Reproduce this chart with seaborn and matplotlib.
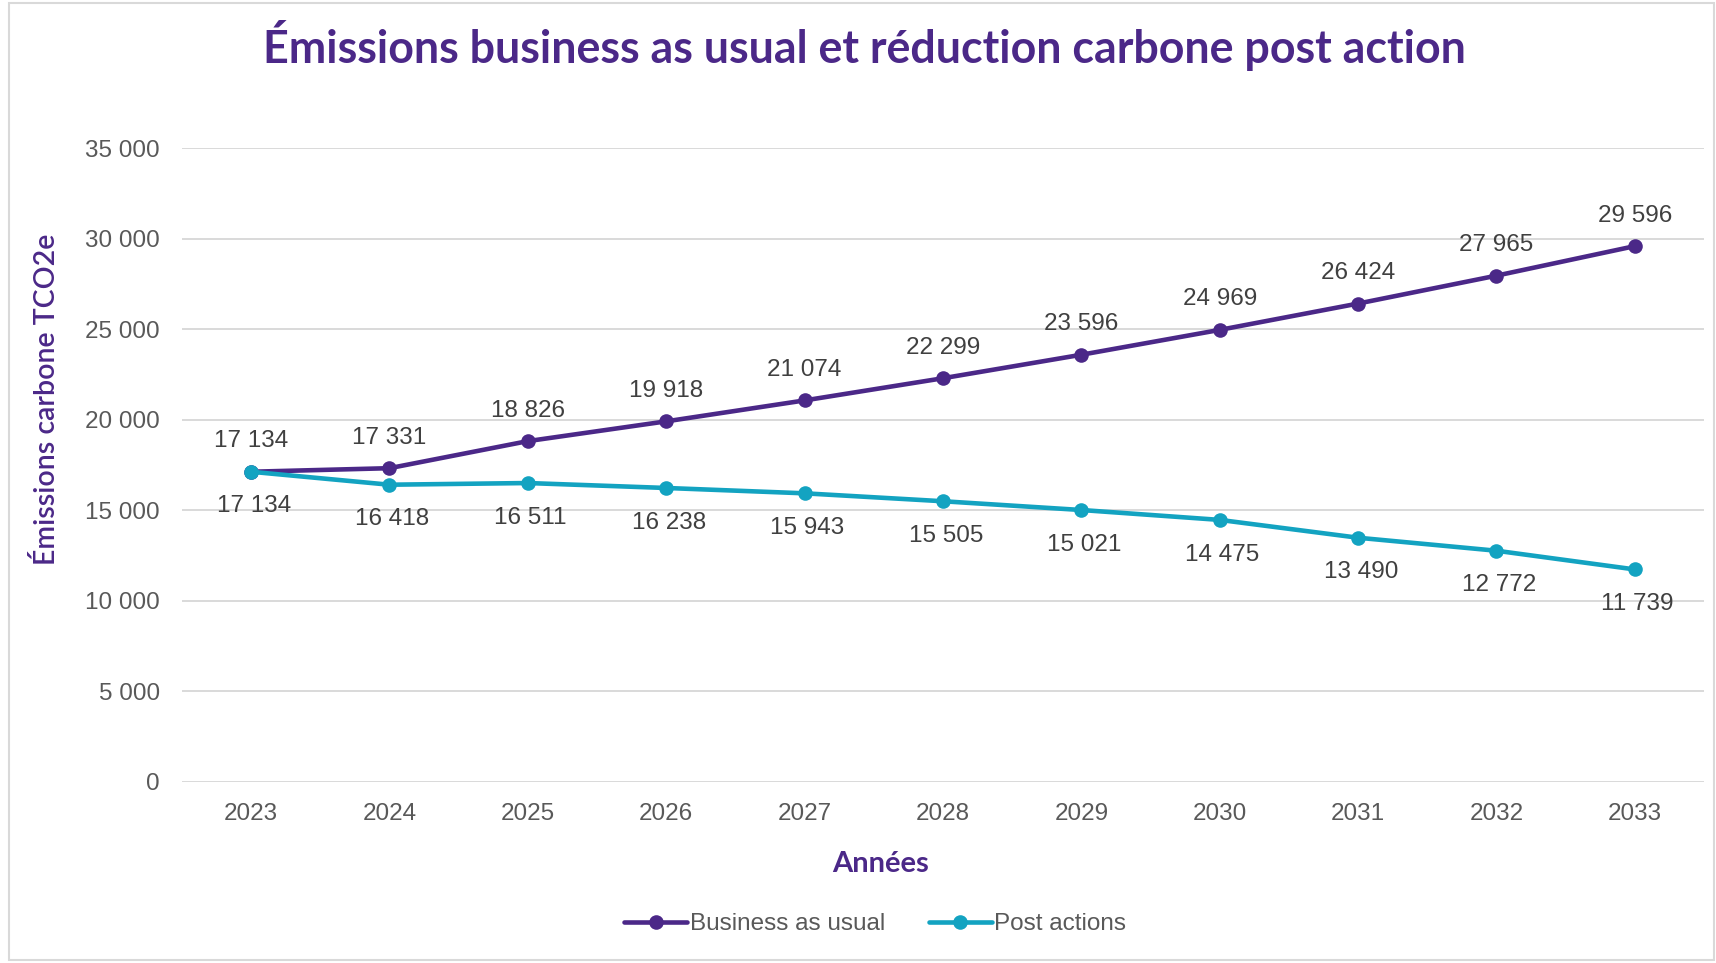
import pandas as pd
import seaborn as sns
import matplotlib.pyplot as plt
from matplotlib.patches import Rectangle
from matplotlib.ticker import FuncFormatter

# Chart values
years = ["2023", "2024", "2025", "2026", "2027", "2028", "2029", "2030", "2031", "2032", "2033"]
business_as_usual = [17134, 17331, 18826, 19918, 21074, 22299, 23596, 24969, 26424, 27965, 29596]
post_actions = [17134, 16418, 16511, 16238, 15943, 15505, 15021, 14475, 13490, 12772, 11739]
series_names = ["Business as usual", "Post actions"]

PURPLE = "#4B2888"
TEAL = "#13A3C1"
TEXT_GREY = "#595959"


def fmt_fr(v):
    """Format a number with a space as thousands separator"""
    return f"{int(v):,}".replace(",", " ")


# Long-form table for seaborn
df = pd.DataFrame({
    "idx": list(range(len(years))) * 2,
    "value": business_as_usual + post_actions,
    "series": [series_names[0]] * len(years) + [series_names[1]] * len(years),
})

sns.set_style("white")
plt.rcParams["font.family"] = ["Liberation Sans", "DejaVu Sans"]

fig = plt.figure(figsize=(17.16, 9.63), dpi=100)
ax = fig.add_axes([0.106, 0.188, 0.887, 0.658])

sns.lineplot(
    data=df, x="idx", y="value", hue="series",
    palette={series_names[0]: PURPLE, series_names[1]: TEAL},
    marker="o", markersize=10.5, markeredgewidth=0, linewidth=3.3,
    ax=ax, legend=True,
)

ax.set_xlim(-0.5, len(years) - 0.5)
ax.set_ylim(0, 35000)
ax.set_yticks(range(0, 35001, 5000))
ax.yaxis.set_major_formatter(FuncFormatter(lambda v, p: fmt_fr(v)))
ax.set_xticks(range(len(years)))
ax.set_xticklabels(years)
ax.tick_params(axis="both", labelsize=17.5, colors=TEXT_GREY, length=0)
ax.tick_params(axis="y", pad=16)
ax.tick_params(axis="x", pad=15)
ax.grid(axis="y", color="#D9D9D9", linewidth=1.4)
ax.set_axisbelow(True)
for s in ax.spines.values():
    s.set_visible(False)

# Data labels
for i, v in enumerate(business_as_usual):
    ax.annotate(fmt_fr(v), (i, v), xytext=(0, 22), textcoords="offset points",
                ha="center", va="center", fontsize=17.5, color="#404040")
for i, v in enumerate(post_actions):
    ax.annotate(fmt_fr(v), (i, v), xytext=(2, -25), textcoords="offset points",
                ha="center", va="center", fontsize=17.5, color="#404040")

ax.set_xlabel("")
ax.set_ylabel("")

fig.text(0.504, 0.953, "Émissions business as usual et réduction carbone post action",
         ha="center", va="center", fontsize=32.2, fontweight="bold", color=PURPLE,
         family=["Lato", "DejaVu Sans"])
fig.text(0.027, 0.585, "Émissions carbone TCO2e", rotation=90, ha="center", va="center",
         fontsize=20.5, color=PURPLE, family=["Lato", "DejaVu Sans"], fontweight="semibold")
fig.text(0.513, 0.103, "Années", ha="center", va="center", fontsize=21,
         fontweight="bold", color=PURPLE, family=["Lato", "DejaVu Sans"])

handles, labels = ax.get_legend_handles_labels()
ax.get_legend().remove()
fig.legend(handles, labels, loc="center", bbox_to_anchor=(0.51, 0.040), ncol=2,
           frameon=False, fontsize=17.5, handlelength=2.6, handletextpad=0.1,
           columnspacing=1.8, labelcolor=TEXT_GREY)

# light frame around the chart
fig.patches.append(Rectangle((0.005, 0.003), 0.994, 0.994, transform=fig.transFigure,
                             fill=False, edgecolor="#D9D9D9", linewidth=1.5))

plt.savefig("out.png", dpi=100)
plt.close()
